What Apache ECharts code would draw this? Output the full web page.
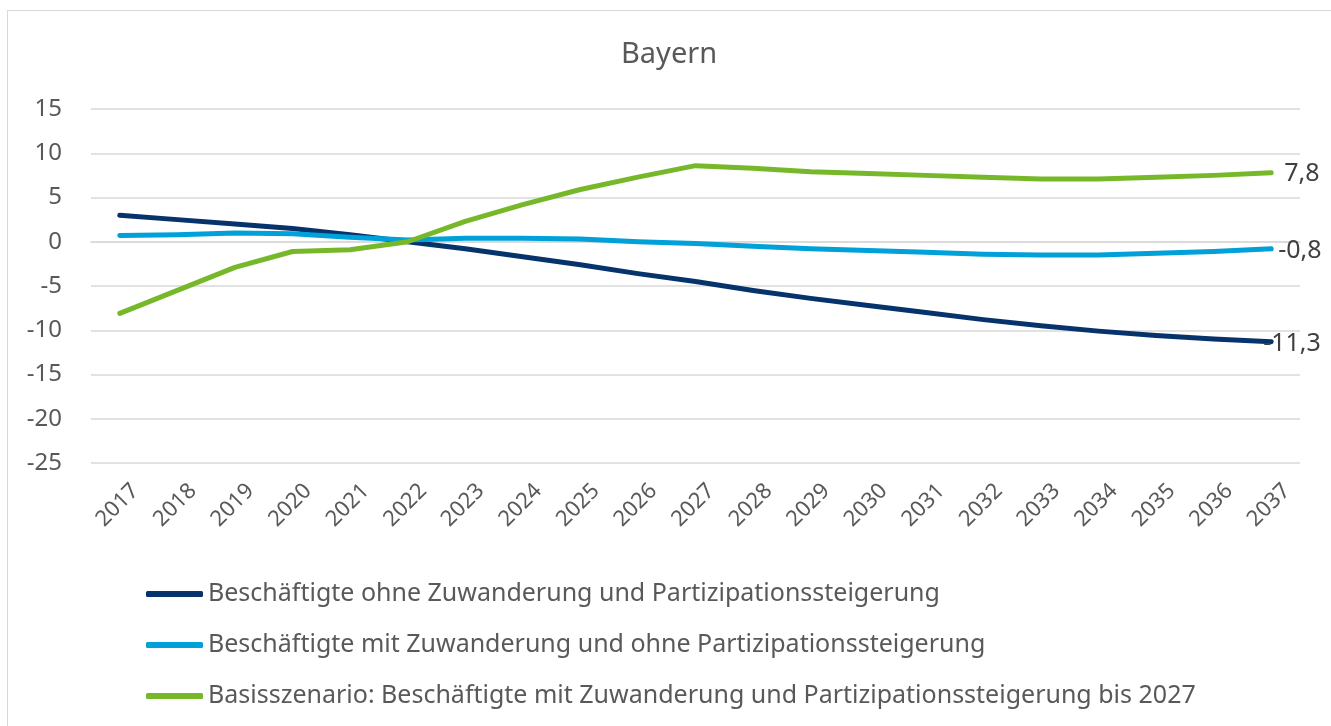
<!DOCTYPE html>
<html>
<head>
<meta charset="utf-8">
<script src="https://cdn.jsdelivr.net/npm/echarts@6/dist/echarts.min.js"></script>
<style>
html,body{margin:0;padding:0;background:#fff;}
#frame{position:absolute;left:7px;top:10px;width:1400px;height:800px;border:1.5px solid #d9d9d9;pointer-events:none;}
#chart{position:absolute;left:0;top:0;width:1331px;height:726px;}
</style>
</head>
<body>
<div id="frame"></div>
<div id="chart"></div>
<script>
const years = ['2017','2018','2019','2020','2021','2022','2023','2024','2025','2026','2027','2028','2029','2030','2031','2032','2033','2034','2035','2036','2037'];
const ohneZuwanderung = [3.0, 2.5, 2.0, 1.5, 0.8, 0.0, -0.8, -1.7, -2.6, -3.6, -4.5, -5.5, -6.4, -7.2, -8.0, -8.8, -9.5, -10.1, -10.6, -11.0, -11.3];
const mitZuwanderung = [0.7, 0.8, 1.0, 0.9, 0.5, 0.2, 0.4, 0.4, 0.3, 0.0, -0.2, -0.5, -0.8, -1.0, -1.2, -1.4, -1.5, -1.5, -1.3, -1.1, -0.8];
const basisszenario = [-8.1, -5.5, -2.9, -1.1, -0.9, 0.0, 2.3, 4.2, 5.9, 7.3, 8.6, 8.3, 7.9, 7.7, 7.5, 7.3, 7.1, 7.1, 7.3, 7.5, 7.8];
const seriesNames = [
  'Beschäftigte ohne Zuwanderung und Partizipationssteigerung',
  'Beschäftigte mit Zuwanderung und ohne Partizipationssteigerung',
  'Basisszenario: Beschäftigte mit Zuwanderung und Partizipationssteigerung bis 2027'
];
const title = 'Bayern';

const FONT = 'Noto Sans';
const GREY = '#595959';
const colors = ['#06336b', '#00a0d8', '#77b82b'];
const labelOffsets = [[-8, 2], [7, 2], [13, 1]];
const fmt = v => v.toFixed(1).replace('.', ',');

const chart = echarts.init(document.getElementById('chart'), null, {renderer: 'canvas'});
const mk = (i, data) => ({
  name: seriesNames[i],
  type: 'line',
  data: data,
  symbol: 'none',
  lineStyle: {width: 5, color: colors[i], cap: 'round', join: 'round'},
  itemStyle: {color: colors[i]},
  endLabel: {
    show: true,
    distance: 0,
    offset: labelOffsets[i],
    formatter: p => fmt(p.value),
    color: '#404040',
    fontFamily: FONT,
    fontSize: 25
  },
  animation: false
});

chart.setOption({
  animation: false,
  color: colors,
  title: {
    text: title,
    left: 616,
    top: 35,
    textStyle: {fontFamily: FONT, fontSize: 29, fontWeight: 'normal', color: GREY}
  },
  grid: {left: 91, right: 31, top: 109, bottom: 263},
  legend: {
    orient: 'vertical',
    left: 141,
    top: 574,
    icon: 'roundRect',
    itemWidth: 57,
    itemHeight: 6,
    itemGap: 21,
    textStyle: {fontFamily: FONT, fontSize: 25, color: GREY, lineHeight: 30},
    data: seriesNames
  },
  xAxis: {
    type: 'category',
    data: years,
    boundaryGap: true,
    axisLine: {show: true, lineStyle: {color: '#d9d9d9', width: 1.5}},
    axisTick: {show: false},
    axisLabel: {rotate: 45, margin: 40, interval: 0, padding: [0, -22, 0, 0], fontFamily: FONT, fontSize: 22, color: GREY}
  },
  yAxis: {
    type: 'value',
    min: -25,
    max: 15,
    interval: 5,
    axisLine: {show: false},
    axisTick: {show: false},
    splitLine: {lineStyle: {color: '#d9d9d9', width: 1.5}},
    axisLabel: {margin: 29, fontFamily: FONT, fontSize: 24, color: GREY}
  },
  series: [mk(0, ohneZuwanderung), mk(1, mitZuwanderung), mk(2, basisszenario)]
});
</script>
</body>
</html>
